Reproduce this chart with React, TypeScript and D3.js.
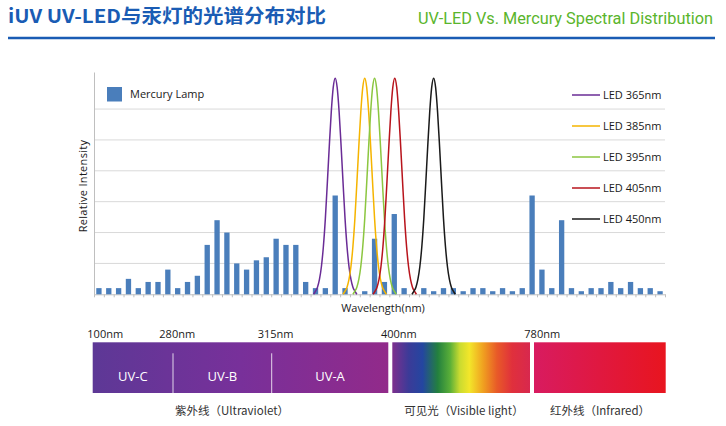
import React, { useEffect, useRef } from 'react';
import * as d3 from 'd3';

// mercury lamp relative intensity, one value per wavelength bin
const mercuryLamp = [
  0.2, 0.2, 0.2, 0.5, 0.2, 0.4, 0.4, 0.8, 0.2, 0.4, 0.6,
  1.6, 2.4, 2.0, 1.0, 0.8, 1.1, 1.2, 1.8, 1.6, 1.6,
  0.4, 0.2, 0.2, 3.2, 0.2, 0, 0.1, 1.8, 0.4, 2.6,
  0.2, 0, 0.2, 0.1, 0.2, 0.2, 0.1, 0.2, 0.2, 0.1,
  0.2, 0.1, 0.2, 3.2, 0.8, 0.2, 2.4, 0.2, 0.1, 0.2,
  0.2, 0.4, 0.2, 0.4, 0.2, 0.2, 0.1,
];

const ledNames = ['LED 365nm', 'LED 385nm', 'LED 395nm', 'LED 405nm', 'LED 450nm'];
const ledColors = ['#6a2c96', '#f5b400', '#8cc640', '#b8141c', '#1a1a1a'];
// bin index where each LED peaks
const ledPeaks = [24, 27, 28, 30.05, 34];
// shape of an LED peak: [offset in bins, relative intensity]
const ledProfile: [number, number][] = [
  [-2.2, 0], [-2.0, 0.1], [-1.8, 0.23], [-1.6, 0.48], [-1.4, 0.9], [-1.2, 1.55],
  [-1.0, 2.45], [-0.8, 3.6], [-0.6, 4.8], [-0.4, 5.9], [-0.2, 6.7], [0, 7],
  [0.2, 6.7], [0.4, 5.9], [0.6, 4.8], [0.8, 3.6], [1.0, 2.45], [1.2, 1.55],
  [1.4, 0.9], [1.6, 0.48], [1.8, 0.23], [2.0, 0.1], [2.2, 0],
];
const gridValues = [1, 2, 3, 4, 5, 6];

const edgeLabels = ['100nm', '280nm', '315nm', '400nm', '780nm'];
const uvBands = ['UV-C', 'UV-B', 'UV-A'];
const regionNames = ['紫外线（Ultraviolet）', '可见光（Visible light）', '红外线（Infrared）'];

const title = 'iUV UV-LED与汞灯的光谱分布对比';
const subtitle = 'UV-LED Vs. Mercury Spectral Distribution';

const App: React.FC = () => {
  const svgRef = useRef<SVGSVGElement>(null);
  const width = 726;
  const height = 426;

  useEffect(() => {
    if (!svgRef.current) return;
    const svg = d3.select(svgRef.current);
    svg.selectAll('*').remove();

    const left = 94, right = 665, top = 72, bottom = 294.3;
    const chartFont = '"Open Sans", sans-serif';

    const idx = d3.range(mercuryLamp.length);
    const xBand = d3.scaleBand<number>()
      .domain(idx)
      .range([left, right])
      .paddingInner(0.46)
      .paddingOuter(0.23);
    const xPos = d3.scaleLinear().domain([0, mercuryLamp.length]).range([left, right]);
    const y = d3.scaleLinear().domain([0, 7.2]).range([bottom, top]);

    // header
    svg.append('text')
      .attr('x', 8).attr('y', 22.5)
      .attr('textLength', 318).attr('lengthAdjust', 'spacingAndGlyphs')
      .style('font-family', '"Noto Sans CJK SC", sans-serif')
      .style('font-weight', 'bold').style('font-size', '19px')
      .style('fill', '#1a5cb4')
      .text(title);
    svg.append('text')
      .attr('x', 418).attr('y', 24)
      .attr('textLength', 295).attr('lengthAdjust', 'spacingAndGlyphs')
      .style('font-family', 'Roboto, sans-serif')
      .style('font-size', '16px')
      .style('fill', '#5ab52c')
      .text(subtitle);
    svg.append('line')
      .attr('x1', 8).attr('x2', 715).attr('y1', 38).attr('y2', 38)
      .attr('stroke', '#1a5cb4').attr('stroke-width', 2.5);

    // gridlines
    svg.append('g').selectAll('line')
      .data(gridValues)
      .enter().append('line')
      .attr('x1', left).attr('x2', right)
      .attr('y1', d => y(d)).attr('y2', d => y(d))
      .attr('stroke', '#d9d9d9').attr('stroke-width', 1);

    // axes
    const yAxis = svg.append('g')
      .attr('transform', `translate(${left},0)`)
      .call(d3.axisLeft(y).tickValues([]).tickSizeOuter(0));
    yAxis.select('.domain').attr('stroke', '#bfbfbf');

    const xAxis = svg.append('g')
      .attr('transform', `translate(0,${bottom})`)
      .call(d3.axisBottom(xPos).tickValues(d3.range(mercuryLamp.length + 1)).tickSize(3).tickSizeOuter(0).tickFormat(() => ''));
    xAxis.select('.domain').attr('stroke', '#bfbfbf');
    xAxis.selectAll('.tick line').attr('stroke', '#bfbfbf');

    // mercury bars
    svg.append('g').selectAll('rect')
      .data(mercuryLamp)
      .enter().append('rect')
      .attr('x', (_, i) => xBand(i) || 0)
      .attr('width', xBand.bandwidth())
      .attr('y', d => y(d))
      .attr('height', d => bottom - y(d))
      .attr('fill', '#4a7ebb');

    // LED curves
    const line = d3.line<[number, number]>()
      .x(d => xPos(d[0]))
      .y(d => y(d[1]))
      .curve(d3.curveMonotoneX);
    svg.append('g').selectAll('path')
      .data(ledPeaks)
      .enter().append('path')
      .attr('d', p => line(ledProfile.map(([o, v]) => [p + 0.5 + o, v] as [number, number])))
      .attr('fill', 'none')
      .attr('stroke', (_, i) => ledColors[i])
      .attr('stroke-width', 1.5);

    // legend: mercury lamp
    svg.append('rect')
      .attr('x', 107).attr('y', 87).attr('width', 15).attr('height', 14.5)
      .attr('fill', '#4a7ebb');
    svg.append('text')
      .attr('x', 130).attr('y', 94).attr('dy', '0.35em')
      .style('font-family', chartFont).style('font-size', '11px').style('fill', '#1a1a1a')
      .text('Mercury Lamp');

    // legend: LEDs
    const legend = svg.append('g').selectAll('g')
      .data(ledNames)
      .enter().append('g')
      .attr('transform', (_, i) => `translate(572,${95 + i * 31})`);
    legend.append('line')
      .attr('x1', 0).attr('x2', 28)
      .attr('stroke', (_, i) => ledColors[i]).attr('stroke-width', 1.5);
    legend.append('text')
      .attr('x', 31).attr('dy', '0.35em')
      .style('font-family', chartFont).style('font-size', '11px').style('fill', '#1a1a1a')
      .text(d => d);

    // axis titles
    svg.append('text')
      .attr('transform', 'translate(83,186) rotate(-90)')
      .attr('dy', '0.35em')
      .style('text-anchor', 'middle')
      .style('font-family', chartFont).style('font-size', '11px').style('letter-spacing', '0.3px')
      .style('fill', '#1a1a1a')
      .text('Relative Intensity');
    svg.append('text')
      .attr('x', 383).attr('y', 312)
      .style('text-anchor', 'middle')
      .style('font-family', chartFont).style('font-size', '11px').style('fill', '#1a1a1a')
      .text('Wavelength(nm)');

    // spectrum strip
    const defs = svg.append('defs');
    const addGrad = (id: string, stops: [number, string][]) => {
      const g = defs.append('linearGradient').attr('id', id)
        .attr('x1', '0%').attr('x2', '100%').attr('y1', '0%').attr('y2', '0%');
      stops.forEach(([o, c]) => g.append('stop').attr('offset', o).attr('stop-color', c));
    };
    addGrad('uvGrad', [[0, '#5d3896'], [0.5, '#78309a'], [1, '#922a8a']]);
    addGrad('visGrad', [
      [0, '#7d2f8e'], [0.12, '#3b3b98'], [0.22, '#2446a0'], [0.33, '#23803e'],
      [0.42, '#5aaf38'], [0.49, '#cadb30'], [0.56, '#f3e62a'], [0.66, '#f0a020'],
      [0.76, '#e85a28'], [0.87, '#e0303c'], [1, '#d8284e'],
    ]);
    addGrad('irGrad', [[0, '#d81b60'], [1, '#e8151f']]);

    const stripTop = 342.3, stripH = 50.7;
    const segX = [[92.7, 388.3], [392.3, 530], [534, 665.7]];
    const segFill = ['url(#uvGrad)', 'url(#visGrad)', 'url(#irGrad)'];
    svg.append('g').selectAll('rect')
      .data(segX)
      .enter().append('rect')
      .attr('x', d => d[0]).attr('width', d => d[1] - d[0])
      .attr('y', stripTop).attr('height', stripH)
      .attr('fill', (_, i) => segFill[i]);

    const uvEdges = [92.7, 173, 271.7, 388.3];
    svg.append('g').selectAll('line')
      .data(uvEdges.slice(1, 3))
      .enter().append('line')
      .attr('x1', d => d).attr('x2', d => d)
      .attr('y1', 353.3).attr('y2', stripTop + stripH)
      .attr('stroke', '#ffffff').attr('stroke-opacity', 0.8).attr('stroke-width', 1);
    svg.append('g').selectAll('text')
      .data(uvBands)
      .enter().append('text')
      .attr('x', (_, i) => (uvEdges[i] + uvEdges[i + 1]) / 2)
      .attr('y', 376).attr('dy', '0.35em')
      .style('text-anchor', 'middle')
      .style('font-family', chartFont).style('font-size', '13px').style('fill', '#ffffff')
      .text(d => d);

    const edgeX = [87.3, 159.3, 257.7, 381, 524.3];
    svg.append('g').selectAll('text')
      .data(edgeLabels)
      .enter().append('text')
      .attr('x', (_, i) => edgeX[i]).attr('y', 338)
      .style('font-family', chartFont).style('font-size', '11px').style('fill', '#1a1a1a')
      .text(d => d);

    const regionX = [232, 464, 600];
    svg.append('g').selectAll('text')
      .data(regionNames)
      .enter().append('text')
      .attr('x', (_, i) => regionX[i]).attr('y', 414.5)
      .style('text-anchor', 'middle')
      .style('font-family', '"Noto Sans CJK SC", sans-serif').style('font-size', '11.5px')
      .style('fill', '#333')
      .text(d => d);
  }, []);

  return (
    <svg
      ref={svgRef}
      width={width}
      height={height}
      style={{ position: 'absolute', left: 0, top: 0, background: '#fff', display: 'block' }}
    />
  );
};

export default App;
